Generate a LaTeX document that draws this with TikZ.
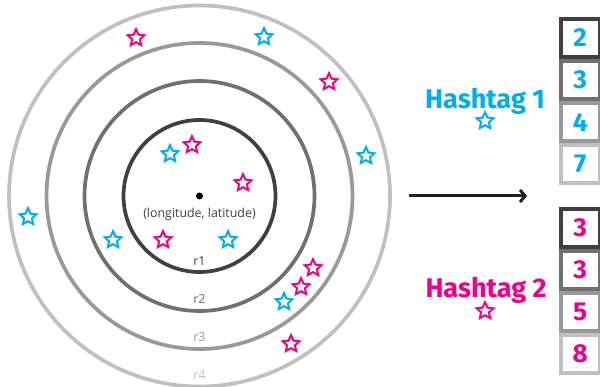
\documentclass[tikz,border=0pt]{standalone}
\usepackage{fontspec}
\setmainfont{Open Sans}
\newfontfamily\heavy{Fira Sans}
\usetikzlibrary{shapes.geometric,arrows.meta}
\definecolor{cy}{HTML}{00AEEF}
\definecolor{mg}{HTML}{EC008C}
\definecolor{ga}{HTML}{404040}
\definecolor{gb}{HTML}{707070}
\definecolor{gc}{HTML}{999999}
\definecolor{gd}{HTML}{C0C0C0}
\tikzset{
 ring/.style={circle,draw=#1,line width=3.7pt,fill=none,inner sep=0pt},
 starbase/.style={star,star points=5,star point ratio=2.1,minimum size=17.5pt,inner sep=0pt,line width=2pt,fill=white,draw=#1},
 cstar/.style={starbase=cy},
 mstar/.style={starbase=mg},
 numbox/.style={draw=#1,line width=3.6pt,fill=white,minimum width=38.6pt,minimum height=38.2pt,inner sep=0pt,font=\fontsize{26}{26}\selectfont\heavy\bfseries},
 ringlabel/.style={font=\fontsize{12.4}{13}\selectfont,inner sep=0pt},
 hash/.style={font=\fontsize{27}{28}\selectfont\heavy\bfseries,inner sep=0pt},
}
\begin{document}
\begin{tikzpicture}[x=1pt,y=-1pt]
\useasboundingbox (0,0) rectangle (600,387);
\node[ring=gd,minimum size=381pt] (r4c) at (199.5,196) {};
\node[ring=gc,minimum size=306pt] (r3c) at (199.5,196) {};
\node[ring=gb,minimum size=230pt] (r2c) at (199.5,196) {};
\node[ring=ga,minimum size=152pt] (r1c) at (199.5,196) {};
\node[circle,fill=black,minimum size=7pt,inner sep=0pt] (centre) at (199.5,196) {};
\node[ringlabel,text=ga] (ll) at (199.5,214.5) {(longitude, latitude)};
\node[ringlabel,text=ga] (l1) at (199.5,261) {r1};
\node[ringlabel,text=gb] (l2) at (199.5,299) {r2};
\node[ringlabel,text=gc] (l3) at (199.5,337) {r3};
\node[ringlabel,text=gd] (l4) at (199.5,375) {r4};
\foreach \n/\x/\y in {a/170/154,b/264/37,c/366/156,d/28/217,e/113/240,f/228/240,g/284/302,h/485/121}
  \node[cstar] (c\n) at (\x,\y) {};
\foreach \n/\x/\y in {a/192/145,b/136/38,c/329/82,d/243/183,e/163/240,f/313/268,g/301/287,h/291/344,i/485/311}
  \node[mstar] (m\n) at (\x,\y) {};
\node[hash,text=cy] (h1) at (485,101.5) {Hashtag 1};
\node[hash,text=mg] (h2) at (486,290.5) {Hashtag 2};
\foreach \n/\y/\c/\v in {a/38/ga/2,b/80/gb/3,c/122/gc/4,d/164/gd/7}
  \node[numbox=\c,text=cy] (n\n) at (580.2,\y) {\v};
\foreach \n/\y/\c/\v in {a/228/ga/3,b/270/gb/3,c/312/gc/5,d/354/gd/8}
  \node[numbox=\c,text=mg] (p\n) at (580.2,\y) {\v};
\coordinate (as) at (409,196);
\coordinate (ae) at (527,196);
\draw[line width=3pt,color=black!88,-{Straight Barb[length=5pt,width=12pt]}] (as) -- (ae);
\end{tikzpicture}
\end{document}
